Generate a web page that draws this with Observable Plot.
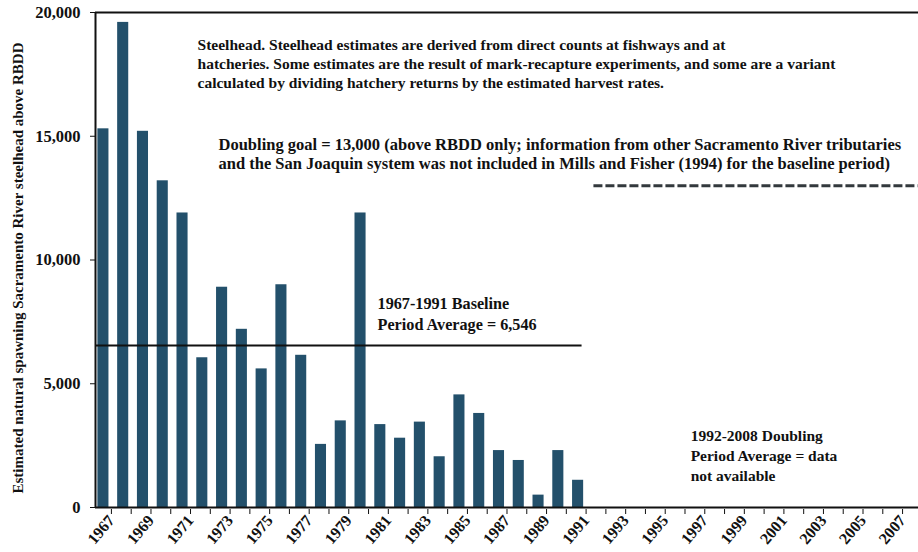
<!DOCTYPE html>
<html>
<head>
<meta charset="utf-8">
<script src="https://cdn.jsdelivr.net/npm/d3@7"></script>
<script src="https://cdn.jsdelivr.net/npm/@observablehq/plot@0.6"></script>
<style>
  html, body { margin: 0; padding: 0; background: #fff; }
  #chart { width: 918px; height: 552px; }
</style>
</head>
<body>
<div id="chart"></div>
<script>
// ---- data ----
const years = [1967, 1968, 1969, 1970, 1971, 1972, 1973, 1974, 1975, 1976, 1977, 1978, 1979,
               1980, 1981, 1982, 1983, 1984, 1985, 1986, 1987, 1988, 1989, 1990, 1991];
const steelhead = [15300, 19600, 15200, 13200, 11900, 6050, 8900, 7200, 5600, 9000, 6150, 2550, 3500,
                   11900, 3350, 2800, 3450, 2050, 4550, 3800, 2300, 1900, 500, 2300, 1100];
const axisYears = d3.range(1967, 2009);
const yTicks = [0, 5000, 10000, 15000, 20000];
const baselineAverage = 6546;
const baselinePeriod = [1967, 1991];
const doublingGoal = 13000;
const doublingPeriod = [1992, 2008];

const noteSteelhead = "Steelhead. Steelhead estimates are derived from direct counts at fishways and at\nhatcheries. Some estimates are the result of mark-recapture experiments, and some are a variant\ncalculated by dividing hatchery returns by the estimated harvest rates.";
const noteGoal = "Doubling goal = 13,000 (above RBDD only; information from other Sacramento River tributaries\nand the San Joaquin system was not included in Mills and Fisher (1994) for the baseline period)";
const noteBaseline = "1967-1991 Baseline\nPeriod Average = 6,546";
const noteDoubling = "1992-2008 Doubling\nPeriod Average = data\nnot available";
const yTitle = "Estimated natural spawning Sacramento River steelhead above RBDD";

const data = years.map((year, i) => ({year, value: steelhead[i]}));
const xDomain = [1966.6, 2008.21];
const barColor = "#23506b";
const FONT = "Liberation Serif";

const chart = Plot.plot({
  width: 918,
  height: 552,
  marginLeft: 95,
  marginRight: 0,
  marginTop: 12,
  marginBottom: 45,
  style: {fontSize: "14px", background: "white", color: "#111", fontFamily: FONT, fontWeight: "bold"},
  x: {domain: xDomain, range: [95, 918]},
  y: {domain: [0, 20000]},
  marks: [
    Plot.rectY(data, {x1: d => d.year - 0.28, x2: d => d.year + 0.28, y: "value", fill: barColor}),
    // frame lines
    Plot.ruleY([20000], {x1: xDomain[0], x2: xDomain[1], stroke: "#111", strokeWidth: 2}),
    Plot.ruleY([0], {x1: xDomain[0], x2: xDomain[1], stroke: "#111", strokeWidth: 2}),
    Plot.ruleX([xDomain[0]], {y1: 0, y2: 20000, stroke: "#111", strokeWidth: 2}),
    // baseline average
    Plot.ruleY([baselineAverage], {x1: baselinePeriod[0] - 0.4, x2: baselinePeriod[1] + 0.2, stroke: "#111", strokeWidth: 2}),
    // doubling goal
    Plot.ruleY([doublingGoal], {x1: doublingPeriod[0] - 0.2, x2: doublingPeriod[1] + 0.2, stroke: "#33393d", strokeWidth: 3, strokeDasharray: "9,3"}),
    // axes
    Plot.axisY({ticks: yTicks, tickFormat: d3.format(","), tickSize: 5, tickPadding: 10, fontSize: 16.5, label: null}),
    Plot.axisX({ticks: axisYears, tickFormat: d => d % 2 ? String(d) : "", tickSize: 5, tickPadding: 3,
                tickRotate: -50, fontSize: 16, dx: 8, dy: 2, label: null}),
    Plot.text([yTitle], {frameAnchor: "left", dx: -77, dy: 8, rotate: -90, text: d => d, textAnchor: "middle", lineAnchor: "middle", fontSize: 15}),
    // annotations
    Plot.text([noteSteelhead], {x: 1971.76, y: 19030, text: d => d, textAnchor: "start", lineAnchor: "top", lineHeight: 1.23, fontSize: 15.5}),
    Plot.text([noteGoal], {x: 1972.82, y: 15030, text: d => d, textAnchor: "start", lineAnchor: "top", lineHeight: 1.2, fontSize: 16.5}),
    Plot.text([noteBaseline], {x: 1980.86, y: 8606, text: d => d, textAnchor: "start", lineAnchor: "top", lineHeight: 1.27, fontSize: 16.2}),
    Plot.text([noteDoubling], {x: 1996.69, y: 3273, text: d => d, textAnchor: "start", lineAnchor: "top", lineHeight: 1.29, fontSize: 15.5})
  ]
});
chart.querySelectorAll("text").forEach(t => {
  t.setAttribute("font-family", FONT);
  t.style.fontWeight = "bold";
});
document.getElementById("chart").appendChild(chart);
</script>
</body>
</html>
